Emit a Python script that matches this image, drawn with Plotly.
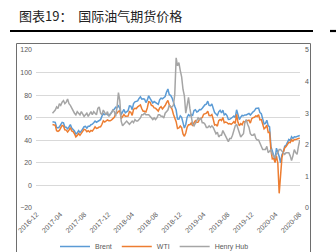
import pandas as pd
import plotly.graph_objects as go

# ---------------- data (weekly) ----------------
start_date = "2017-02-20"

brent = [
    # 2017
    56.5, 56.0, 55.9, 51.4, 51.0, 51.8, 54.2, 55.9, 55.4, 51.7, 51.5, 50.1, 51.8, 53.9, 50.8,
    49.9, 48.2, 45.5, 46.5, 48.6, 46.9, 48.1, 49.6, 52.0, 52.4, 50.7, 52.4, 52.4, 53.8, 54.3,
    55.6, 57.0, 56.0, 56.8, 57.5, 58.3, 61.4, 63.5, 62.7, 63.6, 62.7, 62.0, 63.3, 64.6, 66.9,
    # 2018
    67.6, 69.3, 68.9, 70.5, 68.6, 62.8, 64.8, 67.3, 64.4, 65.5, 66.2, 70.5, 70.3,
    67.1, 72.6, 74.1, 74.6, 74.9, 77.1, 78.5, 76.4, 76.8, 76.5, 73.4, 75.6, 79.4,
    77.1, 75.3, 73.1, 74.3, 73.2, 72.8, 71.8, 75.8, 77.4, 76.8, 78.1, 78.8, 82.7,
    85.5, 80.4, 79.8, 77.6, 72.8, 70.2, 66.8, 58.8, 58.7, 61.7, 60.3, 53.8, 50.8, 54.0,
    # 2019
    60.5, 62.7, 61.6, 62.8, 62.1, 66.3, 67.1, 65.1, 65.7, 67.2, 67.0, 68.4,
    70.3, 71.5, 72.0, 74.7, 70.9, 70.6, 72.2, 68.7, 64.5, 63.3, 62.0, 65.2, 66.6,
    64.2, 66.7, 62.5, 63.5, 61.9, 58.5, 58.6, 59.3, 60.4, 61.5, 60.2, 67.0, 61.9, 58.4,
    60.5, 62.0, 61.7, 62.5, 62.5, 63.3, 63.7, 62.4, 64.4, 65.2, 66.1, 68.2, 68.4,
    # 2020
    68.5, 64.5, 63.5, 59.0, 54.5, 55.0, 57.7, 53.0, 51.9, 34.4, 30.1, 27.0, 22.7,
    33.0, 29.6, 25.6, 20.0, 27.2, 29.6, 34.8, 35.5, 38.3, 40.8, 39.7, 43.1, 41.7,
    43.1, 43.0, 43.3, 43.4, 44.2,
]

wti = [
    # 2017
    54.0, 53.3, 53.2, 48.5, 47.8, 48.7, 51.0, 53.1, 52.6, 49.3, 49.0, 47.4, 49.0, 51.3, 48.3,
    47.7, 45.8, 43.0, 44.2, 46.0, 44.4, 46.2, 47.3, 49.7, 49.2, 47.6, 48.4, 47.3, 48.7, 48.1,
    49.9, 51.9, 50.5, 50.8, 51.8, 52.0, 54.2, 57.3, 56.2, 57.1, 58.0, 57.4, 57.3, 58.1, 59.6,
    # 2018
    60.4, 63.6, 64.0, 65.6, 66.1, 59.2, 61.7, 62.8, 61.3, 61.1, 61.4, 65.5, 64.9,
    62.1, 67.4, 68.4, 68.1, 69.7, 70.7, 71.3, 67.9, 65.8, 65.7, 65.1, 68.6, 74.2,
    73.8, 71.0, 70.5, 68.7, 68.5, 67.6, 65.9, 68.7, 69.8, 67.8, 68.9, 70.8, 73.3,
    75.3, 71.3, 69.1, 67.6, 63.1, 60.2, 56.5, 50.4, 50.9, 52.6, 51.2, 45.6, 43.5, 46.5,
    # 2019
    51.6, 53.8, 53.7, 55.3, 52.7, 55.6, 57.3, 55.8, 56.1, 58.5, 59.0, 60.1,
    63.1, 63.9, 64.0, 65.7, 61.9, 61.7, 62.8, 58.6, 53.5, 53.9, 52.5, 57.4, 58.5,
    57.5, 60.2, 55.6, 56.2, 55.7, 54.5, 54.9, 54.2, 55.1, 56.5, 54.9, 62.9, 55.9, 52.8,
    54.7, 53.8, 56.7, 56.2, 57.2, 57.7, 57.8, 55.2, 59.2, 60.1, 60.4, 61.7, 61.1,
    # 2020
    62.7, 58.1, 58.3, 53.1, 50.1, 51.3, 53.5, 47.0, 47.1, 31.1, 23.5, 24.0, 20.3,
    26.1, 19.9, -7.0, 12.0, 24.6, 29.4, 33.3, 34.4, 36.8, 38.2, 37.9, 40.5, 39.3,
    40.6, 40.6, 41.5, 41.6, 41.9,
]

henry_hub = [
    # 2017
    3.00, 3.05, 3.10, 3.20, 3.15, 3.30, 3.25, 3.35, 3.40, 3.30, 3.35, 3.45, 3.30, 3.25, 3.15,
    3.05, 3.00, 2.95, 3.05, 3.00, 2.95, 3.05, 2.95, 2.90, 2.95, 3.00, 2.90, 3.00, 3.05, 2.95,
    3.05, 3.00, 2.95, 3.15, 3.20, 3.00, 2.95, 3.10, 3.00, 2.95, 3.05, 2.90, 2.95, 3.05, 3.10,
    # 2018
    3.05, 2.90, 3.20, 3.65, 3.40, 2.75, 2.60, 2.65, 2.70, 2.75, 2.70, 2.65, 2.70,
    2.75, 2.70, 2.80, 2.75, 2.75, 2.80, 2.85, 2.95, 2.95, 3.00, 2.95, 2.95, 2.95,
    2.90, 2.85, 2.80, 2.85, 2.80, 2.85, 2.95, 2.95, 2.90, 2.90, 2.85, 3.00, 3.05,
    3.10, 3.25, 3.20, 3.20, 3.25, 3.60, 4.75, 4.50, 4.60, 4.35, 4.15, 3.75, 3.55, 3.00,
    # 2019
    3.30, 3.50, 3.15, 2.90, 2.65, 2.60, 2.70, 2.80, 2.85, 2.80, 2.85, 2.70,
    2.70, 2.65, 2.55, 2.55, 2.60, 2.55, 2.60, 2.55, 2.45, 2.35, 2.40, 2.25, 2.30,
    2.30, 2.45, 2.35, 2.25, 2.15, 2.10, 2.20, 2.20, 2.30, 2.45, 2.60, 2.65, 2.50, 2.35,
    2.25, 2.30, 2.35, 2.70, 2.80, 2.65, 2.55, 2.35, 2.30, 2.30, 2.35, 2.20, 2.15,
    # 2020
    2.15, 2.05, 1.90, 1.85, 1.85, 1.85, 1.95, 1.75, 1.80, 1.85, 1.70, 1.65, 1.60,
    1.70, 1.75, 1.85, 1.85, 1.80, 1.75, 1.70, 1.75, 1.75, 1.75, 1.65, 1.50, 1.65,
    1.85, 1.75, 1.70, 1.95, 2.15,
]

series_names = ["Brent", "WTI", "Henry Hub"]
tick_dates = ["2016-12-01", "2017-04-01", "2017-08-01", "2017-12-01", "2018-04-01", "2018-08-01",
              "2018-12-01", "2019-04-01", "2019-08-01", "2019-12-01", "2020-04-01", "2020-08-01"]
tick_labels = ["2016-12", "2017-04", "2017-08", "2017-12", "2018-04", "2018-08",
               "2018-12", "2019-04", "2019-08", "2019-12", "2020-04", "2020-08"]
left_ticks = [-20, 0, 20, 40, 60, 80, 100, 120]
right_ticks = [0, 1, 2, 3, 4, 5]
title_text = "图表19：  国际油气期货价格"

dates = pd.date_range(start=start_date, periods=len(brent), freq="W-MON")

# ---------------- layout geometry (pixels) ----------------
W, H = 336, 252
L, R, T, B = 36, 36, 50, 44
pw, ph = W - L - R, H - T - B


def px(x):
    return (x - L) / pw


def py(y):
    return (H - B - y) / ph


colors = ["#5B9BD5", "#ED7D31", "#A5A5A5"]

fig = go.Figure()
fig.add_trace(go.Scatter(x=dates, y=brent, name=series_names[0], mode="lines",
                         line=dict(color=colors[0], width=1.5)))
fig.add_trace(go.Scatter(x=dates, y=wti, name=series_names[1], mode="lines",
                         line=dict(color=colors[1], width=1.5)))
fig.add_trace(go.Scatter(x=dates, y=henry_hub, name=series_names[2], mode="lines",
                         line=dict(color=colors[2], width=1.5), yaxis="y2"))

tick_font = dict(family="Liberation Sans, Arial, sans-serif", size=7, color="#595959")

fig.update_layout(
    width=W, height=H,
    margin=dict(l=L, r=R, t=T, b=B, autoexpand=False),
    paper_bgcolor="white", plot_bgcolor="white",
    showlegend=True,
    legend=dict(orientation="h", x=px(55), y=py(246.5), xanchor="left", yanchor="middle",
                font=dict(family="Liberation Sans, Arial, sans-serif", size=7, color="#595959"),
                itemwidth=30, tracegroupgap=0, borderwidth=0,
                bgcolor="rgba(0,0,0,0)"),
    xaxis=dict(type="date", range=["2016-11-28", "2020-08-04"],
               tickmode="array", tickvals=tick_dates, ticktext=tick_labels,
               tickangle=-45, tickfont=tick_font, showgrid=False, zeroline=False,
               showline=False, ticks=""),
    yaxis=dict(range=[-20, 120], tickmode="array", tickvals=left_ticks,
               tickfont=tick_font, showgrid=True, gridcolor="#D9D9D9", gridwidth=1,
               zeroline=False, showline=False, ticks="", ticklabelstandoff=3),
    yaxis2=dict(range=[0, 5], tickmode="array", tickvals=right_ticks,
                tickfont=tick_font, overlaying="y", side="right", showgrid=False,
                zeroline=False, showline=False, ticks="", ticklabelstandoff=4),
)

# title text
fig.add_annotation(x=px(17), y=py(16), xref="paper", yref="paper", xanchor="left",
                   yanchor="middle", text=title_text, showarrow=False,
                   font=dict(family="Noto Sans CJK SC", size=13, color="#222222"))

# heavy rule under title + next column rule
fig.add_shape(type="line", xref="paper", yref="paper", x0=px(10), x1=px(313),
              y0=py(31), y1=py(31), line=dict(color="#000000", width=2.2))
fig.add_shape(type="line", xref="paper", yref="paper", x0=px(330), x1=px(340),
              y0=py(31), y1=py(31), line=dict(color="#000000", width=2.2))

# chart frame
fig.add_shape(type="rect", xref="paper", yref="paper", x0=px(16.5), x1=px(310.5),
              y0=py(262), y1=py(43.5), line=dict(color="#6E6E6E", width=1),
              fillcolor="rgba(0,0,0,0)")

fig.write_html("out.html")
